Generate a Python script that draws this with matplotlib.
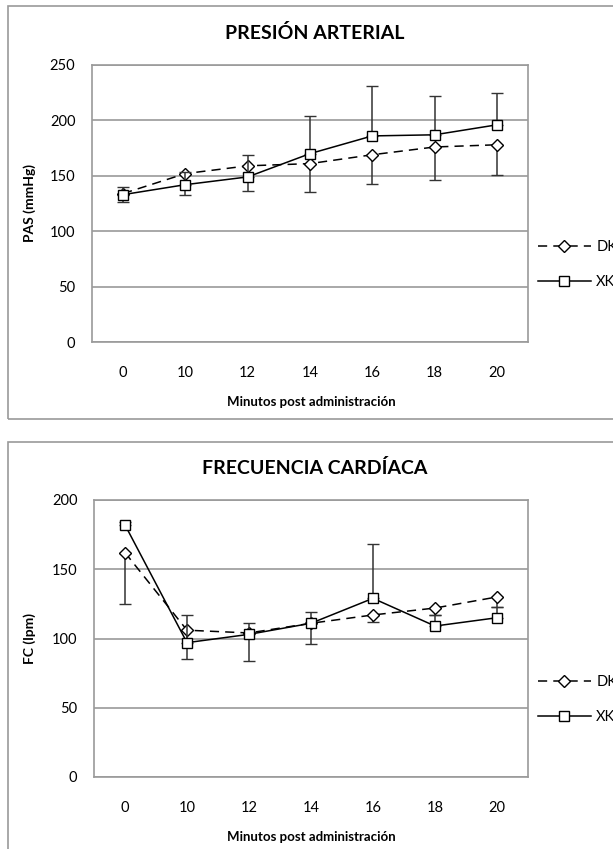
import matplotlib.pyplot as plt
from matplotlib.patches import Rectangle
from matplotlib.lines import Line2D

plt.rcParams['font.family'] = ['Lato', 'DejaVu Sans']

minutos = ['0', '10', '12', '14', '16', '18', '20']

# presion arterial (PAS)
pas_dk = [134, 152, 159, 161, 169, 176, 178]
pas_dk_err = [8, 19, 23, 26, 26, 30, 27]     # solo hacia abajo
pas_xk = [133, 142, 149, 170, 186, 187, 196]
pas_xk_err = [7, 11, 20, 34, 45, 35, 29]     # solo hacia arriba

# frecuencia cardiaca (FC)
fc_dk = [162, 106, 104, 111, 117, 122, 130]
fc_dk_err = [37, 21, 20, 15, 5, 5, 7]
fc_xk = [182, 97, 103, 111, 129, 109, 115]
fc_xk_err = [2, 20, 8, 8, 39, 8, 8]

W, H = 613, 849
GRID = '#9a9a9a'

DK_STYLE = dict(color='black', lw=1.1, dashes=(6, 4), marker='D', ms=6,
	mfc='white', mec='black', mew=1.0)
XK_STYLE = dict(color='black', lw=1.1, marker='s', ms=7,
	mfc='white', mec='black', mew=1.0)


def px(x, y):
	return x / W, 1 - y / H


def draw(ax, dk, dk_err, xk, xk_err, ymax, title, ylabel, top, bottom):
	x = list(range(len(minutos)))
	zeros = [0] * len(x)

	ax.errorbar(x, dk, yerr=[dk_err, zeros], ecolor='#333333', elinewidth=1.1,
		capsize=4, capthick=1.1, zorder=3, **DK_STYLE)
	ax.errorbar(x, xk, yerr=[zeros, xk_err], ecolor='#333333', elinewidth=1.1,
		capsize=4, capthick=1.1, zorder=4, **XK_STYLE)

	ax.set_xlim(-0.5, len(x) - 0.5)
	ax.set_ylim(0, ymax)
	ax.set_yticks(range(0, ymax + 1, 50))
	ax.set_xticks(x)
	ax.set_xticklabels(minutos)
	ax.tick_params(length=0, labelsize=10.5)
	ax.tick_params(axis='x', pad=17)
	ax.tick_params(axis='y', pad=12)
	ax.yaxis.grid(True, color=GRID, lw=1.2)
	ax.set_axisbelow(True)
	for s in ax.spines.values():
		s.set_color(GRID)
		s.set_linewidth(1.2)

	mid = (top + bottom) / 2
	fig = ax.figure
	fig.text(*px(315, top - 32), title, ha='center', va='center', fontsize=14, fontweight='bold')
	fig.text(*px(311, bottom + 60), 'Minutos post administración', ha='center', va='center',
		fontsize=9.5, fontweight='bold')
	fig.text(*px(30, mid), ylabel, ha='center', va='center', rotation=90,
		fontsize=10, fontweight='bold')

	handles = [Line2D([], [], **DK_STYLE), Line2D([], [], **XK_STYLE)]
	ax.legend(handles, ['DK', 'XK'], loc='center left', bbox_to_anchor=px(538, mid + 61),
		bbox_transform=fig.transFigure, frameon=False, fontsize=10.5, handlelength=3.6,
		labelspacing=1.45, handletextpad=0.4, borderaxespad=0, borderpad=0)


def main():
	fig = plt.figure(figsize=(6.13, 8.49), dpi=100)

	# marcos de los graficos
	fig.patches.append(Rectangle(px(8, 419), 1.0, 413 / H, transform=fig.transFigure,
		fill=False, edgecolor=GRID, lw=1.2))
	fig.patches.append(Rectangle(px(8, 860), 1.0, 418 / H, transform=fig.transFigure,
		fill=False, edgecolor=GRID, lw=1.2))

	ax1 = fig.add_axes([92 / W, 1 - 342 / H, 436 / W, 277 / H])
	draw(ax1, pas_dk, pas_dk_err, pas_xk, pas_xk_err, 250,
		'PRESIÓN ARTERIAL', 'PAS (mmHg)', 65, 342)

	ax2 = fig.add_axes([94 / W, 1 - 777 / H, 434 / W, 277 / H])
	draw(ax2, fc_dk, fc_dk_err, fc_xk, fc_xk_err, 200,
		'FRECUENCIA CARDÍACA', 'FC (lpm)', 500, 777)

	plt.savefig('out.png', dpi=100)


if __name__ == '__main__':
	main()
